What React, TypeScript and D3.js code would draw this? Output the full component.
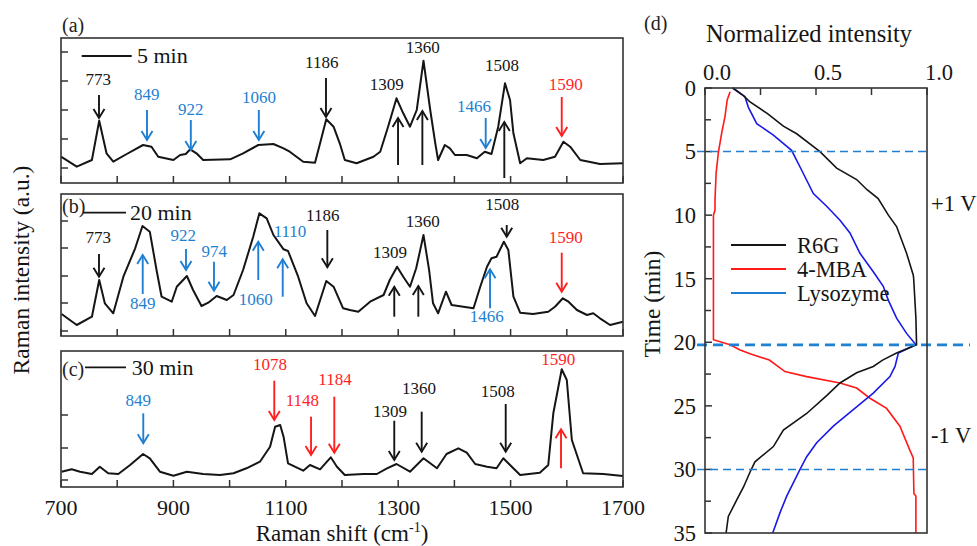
import React from "react";
import * as d3 from "d3";

const FONT = "Liberation Serif, Times New Roman, DejaVu Serif, serif";
const ANN_BLUE = "#1f7fd2";
const ANN_RED = "#ff1f1f";
const INK = "#151515";

// ---------- Spectra: [Raman shift (cm-1), intensity (a.u.)] ----------
const spectrumA: [number, number][] = [
  [700, 26.3], [728, 16.3], [755, 23], [768, 62.3], [781, 29.7], [793, 21.3], [817, 29], [846, 38],
  [861, 36.3], [873, 26.3], [900, 23], [912, 28], [922, 29], [930, 33.7], [941, 29.7], [953, 23],
  [1001, 23.7], [1024, 29.7], [1051, 38], [1078, 39], [1096, 34.7], [1107, 31.3], [1131, 21.3],
  [1152, 20.3], [1164, 46.3], [1172, 63.7], [1185, 56.3], [1196, 39.7], [1205, 23], [1226, 19.7],
  [1256, 26.3], [1268, 31.3], [1282, 56.3], [1297, 84.7], [1309, 69.7], [1321, 56.3], [1333, 73],
  [1345, 122.3], [1357, 73], [1366, 39.7], [1371, 23], [1383, 38], [1392, 34.7], [1401, 28],
  [1422, 28], [1440, 24.7], [1454, 31.3], [1466, 29], [1478, 56.3], [1490, 99.7], [1499, 83],
  [1505, 49.7], [1517, 19.7], [1529, 24.7], [1558, 23], [1579, 26.3], [1594, 41.3], [1606, 36.3],
  [1624, 23], [1659, 19], [1700, 19.7],
];

const spectrumB: [number, number][] = [
  [701, 22], [728, 11], [755, 19.3], [768, 56], [778, 32.7], [793, 22.7], [811, 59.3], [832, 87.7],
  [845, 110], [858, 104.3], [870, 66], [879, 39.3], [897, 34.3], [906, 49.3], [924, 60], [935, 46],
  [950, 30], [962, 33.3], [977, 40], [995, 36], [1007, 41], [1024, 66], [1042, 99.3], [1053, 122.7],
  [1066, 117.7], [1078, 101], [1096, 86.7], [1104, 85], [1122, 59.3], [1137, 32.7], [1152, 20],
  [1172, 55], [1185, 49.3], [1202, 27.7], [1214, 26], [1229, 24.3], [1250, 34.3], [1274, 41],
  [1285, 56], [1298, 69.3], [1309, 59.3], [1321, 49.3], [1332, 67.7], [1345, 101], [1355, 66],
  [1362, 32.7], [1371, 22.7], [1385, 44.3], [1395, 31], [1416, 29.3], [1434, 27.7], [1446, 49.3],
  [1458, 69.3], [1466, 77.7], [1475, 79.3], [1488, 94.3], [1496, 86], [1505, 39.3], [1517, 23.3],
  [1540, 22], [1567, 24.3], [1579, 29.3], [1593, 37.7], [1603, 34.3], [1618, 26], [1636, 21],
  [1647, 22.7], [1659, 17.7], [1677, 11], [1700, 14.3],
];

const spectrumC: [number, number][] = [
  [701, 15.3], [719, 17.7], [734, 15.3], [755, 13], [769, 20.3], [784, 13.7], [802, 13], [823, 22],
  [846, 33], [858, 28.7], [876, 15.3], [900, 11.3], [924, 15.3], [953, 13], [983, 12], [1007, 13.7],
  [1030, 18.7], [1054, 25.3], [1072, 40.3], [1081, 60.3], [1090, 62], [1096, 50.3], [1104, 23.7],
  [1131, 16.3], [1143, 22], [1161, 17.7], [1180, 29.7], [1191, 20.3], [1205, 12], [1238, 13],
  [1262, 13], [1280, 18.7], [1297, 23], [1321, 15.3], [1345, 28.7], [1369, 18.7], [1386, 33],
  [1407, 38.7], [1422, 34.3], [1437, 23], [1458, 20.3], [1475, 18.7], [1487, 28.7], [1499, 22],
  [1517, 12], [1552, 14.3], [1567, 22], [1576, 73.7], [1591, 117.7], [1600, 107], [1609, 47],
  [1629, 13.7], [1665, 13], [1700, 11],
];

// ---------- Panel (d): [time (min), normalized intensity] ----------
const r6g: [number, number][] = [
  [0, 0.125], [0.6, 0.173], [1.1, 0.203], [2.0, 0.28], [3.0, 0.353], [3.6, 0.413], [5.0, 0.518],
  [6.3, 0.593], [7.2, 0.683], [8.0, 0.73], [8.7, 0.78], [10.0, 0.826], [10.9, 0.863], [13.0, 0.908],
  [14.7, 0.938], [15.0, 0.94], [18.1, 0.95], [20.2, 0.953], [20.85, 0.863], [21.4, 0.8],
  [21.9, 0.758], [22.4, 0.683], [23.2, 0.608], [24.2, 0.548], [25.6, 0.458], [26.9, 0.353],
  [28.2, 0.308], [29.4, 0.225], [30.2, 0.203], [31.4, 0.173], [32.4, 0.143], [33.7, 0.105], [35, 0.095],
];
const mba: [number, number][] = [
  [0.3, 0.113], [0.94, 0.1], [2.25, 0.09], [3.56, 0.075], [5.1, 0.06], [6.7, 0.05], [8.8, 0.045],
  [9.6, 0.045], [10, 0.038], [19.8, 0.038], [20.2, 0.113], [20.6, 0.158], [20.9, 0.203], [21.4, 0.29],
  [22.3, 0.36], [22.7, 0.458], [23.2, 0.608], [23.6, 0.683], [24.4, 0.743], [25.2, 0.818],
  [26.6, 0.878], [28.5, 0.923], [29.1, 0.938], [31.9, 0.941], [32.1, 0.95], [35, 0.95],
];
const lysozyme: [number, number][] = [
  [0, 0.125], [0.68, 0.18], [1.5, 0.195], [2.8, 0.233], [3.7, 0.308], [4.9, 0.39], [6.45, 0.435],
  [8.3, 0.488], [9.3, 0.548], [10.4, 0.608], [11.4, 0.653], [13.0, 0.698], [14.45, 0.758],
  [15.6, 0.803], [16.7, 0.826], [18.1, 0.863], [19.3, 0.908], [20.2, 0.95], [20.85, 0.871],
  [21.9, 0.856], [22.7, 0.833], [24.0, 0.758], [25.3, 0.668], [26.6, 0.578], [27.9, 0.503],
  [29.0, 0.458], [30.0, 0.428], [32.1, 0.368], [33.4, 0.338], [35, 0.305],
];

const shiftTicks = [700, 800, 900, 1000, 1100, 1200, 1300, 1400, 1500, 1600, 1700];
const shiftTickLabels = [700, 900, 1100, 1300, 1500, 1700];
const panelATicks = [15, 44, 73, 102, 131];
const panelBTicks = [5, 33, 60, 88, 115];
const panelCTicks = [7, 39, 72];
const timeTicks = [0, 5, 10, 15, 20, 25, 30, 35];
const timeMinorTicks = [2.5, 7.5, 12.5, 17.5, 22.5, 27.5, 32.5];
const normTicks = [0, 0.5, 1.0];
const normMinorTicks = [0.25, 0.75];
const markerTimes = [5, 30];
const switchTime = 20.2;
const legendNames = ["R6G", "4-MBA", "Lysozyme"];
const panelTimes = ["5 min", "20 min", "30 min"];

// Peak annotations: [label, colour key, arrow shift, tail I, head I, label shift, label I]
type Ann = [string, "k" | "b" | "r", number, number, number, number, number];
const annA: Ann[] = [
  ["773", "k", 767.6, 88, 65, 766.4, 98],
  ["849", "b", 853, 73, 43, 852.5, 83],
  ["922", "b", 931, 63, 33, 930.8, 68],
  ["1060", "b", 1052, 73, 43, 1052.3, 80],
  ["1186", "k", 1171.5, 105, 66, 1163.9, 115],
  ["1309", "k", 1299.7, 18, 65, 1279.5, 93],
  ["1360", "k", 1343, 18, 72, 1343.6, 130],
  ["1466", "b", 1455.7, 65, 35, 1434.9, 71],
  ["1508", "k", 1488.8, 5, 61, 1484.7, 112],
  ["1590", "r", 1591, 86, 47, 1598, 93],
];
const annB: Ann[] = [
  ["773", "k", 767.6, 82, 59.3, 766.4, 92.7],
  ["849", "b", 845.4, 42, 81, 845.4, 26.7],
  ["922", "b", 922.4, 87, 66, 917.6, 95],
  ["974", "b", 972.2, 74.3, 45.3, 972.8, 78.7],
  ["1060", "b", 1051, 56, 94.3, 1046.4, 31],
  ["1110", "b", 1094.5, 39.3, 76.7, 1107.5, 99.3],
  ["1186", "k", 1173.9, 106, 68.7, 1165.7, 115.3],
  ["1309", "k", 1293, 19.3, 49.3, 1285.4, 77.7],
  ["1360", "k", 1335.8, 19.3, 50, 1343.6, 108.7],
  ["1466", "b", 1463.4, 27.7, 66.7, 1457.5, 13.7],
  ["1508", "k", 1493.1, 111, 99.3, 1485.3, 126],
  ["1590", "r", 1591, 83.3, 44.3, 1598, 93.3],
];
const annC: Ann[] = [
  ["849", "b", 846.4, 73.7, 43.7, 837.5, 81],
  ["1078", "r", 1079.5, 106.3, 67, 1071.9, 117],
  ["1148", "r", 1144.9, 70.3, 32, 1129.4, 81],
  ["1184", "r", 1186.3, 90.3, 34.3, 1187.6, 102],
  ["1309", "k", 1293, 66.3, 27, 1285.4, 69.7],
  ["1360", "k", 1341.8, 75.3, 35.3, 1337, 93],
  ["1508", "k", 1491.3, 83, 35.3, 1477, 90.3],
  ["1590", "r", 1589.7, 18.7, 57.7, 1584.9, 122],
];

const colorOf = (k: string) => (k === "b" ? ANN_BLUE : k === "r" ? ANN_RED : INK);

// ---------- layout ----------
const L = { left: 61, right: 623 };
const panels = [
  { id: "(a)", top: 38, bottom: 183, data: spectrumA, ticks: panelATicks, ann: annA, tag: panelTimes[0],
    tagY: 32, lineY: 56, lineX: [81.7, 131.7], textX: 137, textY: 63 },
  { id: "(b)", top: 194, bottom: 336, data: spectrumB, ticks: panelBTicks, ann: annB, tag: panelTimes[1],
    tagY: 213, lineY: 212.7, lineX: [83, 126], textX: 130, textY: 220 },
  { id: "(c)", top: 351, bottom: 487, data: spectrumC, ticks: panelCTicks, ann: annC, tag: panelTimes[2],
    tagY: 376, lineY: 367.3, lineX: [85, 126], textX: 131.7, textY: 375 },
];

const D = { left: 705, right: 927, top: 88, bottom: 533 };

function Arrow({ x, y1, y2, color }: { x: number; y1: number; y2: number; color: string }) {
  const dir = Math.sign(y2 - y1);
  const hl = 9, hw = 5.5;
  return (
    <g stroke={color} strokeWidth={1.9} fill="none" strokeLinecap="butt">
      <line x1={x} y1={y1} x2={x} y2={y2} />
      <polyline points={`${x - hw},${y2 - dir * hl} ${x},${y2} ${x + hw},${y2 - dir * hl}`} strokeLinejoin="miter" />
    </g>
  );
}

export default function App() {
  const x = d3.scaleLinear().domain([700, 1700]).range([L.left, L.right]);
  const xd = d3.scaleLinear().domain([0, 1]).range([D.left, D.right]);
  const yd = d3.scaleLinear().domain([0, 35]).range([D.top, D.bottom]);
  const dLine = d3.line<[number, number]>().x((d) => xd(d[1])).y((d) => yd(d[0]));

  return (
    <svg width={977} height={546} style={{ position: "absolute", left: 0, top: 0, background: "#fff", fontFamily: FONT }}>
      <rect x={0} y={0} width={977} height={546} fill="#fff" />
      {panels.map((p, pi) => {
        const y = d3.scaleLinear().domain([0, p.bottom - p.top]).range([p.bottom, p.top]);
        const line = d3.line<[number, number]>().x((d) => x(d[0])).y((d) => y(d[1]));
        return (
          <g key={pi}>
            <path d={line(p.data) || ""} fill="none" stroke={INK} strokeWidth={2} strokeLinejoin="round" />
            {shiftTicks.map((t) => (
              <line key={t} x1={x(t)} x2={x(t)} y1={p.bottom} y2={p.bottom - 7} stroke="#333" strokeWidth={1.5} />
            ))}
            {p.ticks.map((t) => (
              <line key={t} x1={L.left} x2={L.left + 7} y1={y(t)} y2={y(t)} stroke="#333" strokeWidth={1.5} />
            ))}
            <rect x={L.left} y={p.top} width={L.right - L.left} height={p.bottom - p.top} fill="none"
              stroke="#333" strokeWidth={1.6} />
            <text x={62} y={p.tagY} fontSize={20} fill="#222">{p.id}</text>
            <line x1={p.lineX[0]} x2={p.lineX[1]} y1={p.lineY} y2={p.lineY} stroke={INK} strokeWidth={1.8} />
            <text x={p.textX} y={p.textY} fontSize={22} fill={INK}>{p.tag}</text>
            {p.ann.map((a, ai) => (
              <g key={ai}>
                <Arrow x={x(a[2])} y1={y(a[3])} y2={y(a[4])} color={colorOf(a[1])} />
                <text x={x(a[5])} y={y(a[6])} fontSize={17} textAnchor="middle" fill={colorOf(a[1])}>{a[0]}</text>
              </g>
            ))}
          </g>
        );
      })}
      {shiftTickLabels.map((t) => (
        <text key={t} x={x(t)} y={515} fontSize={22} textAnchor="middle" fill={INK}>{t}</text>
      ))}
      <text x={342} y={541} fontSize={23} textAnchor="middle" fill={INK}>
        Raman shift (cm<tspan fontSize={14} dy={-9}>-1</tspan><tspan dy={9}>)</tspan>
      </text>
      <text transform="translate(29,270) rotate(-90)" fontSize={23.5} textAnchor="middle" fill={INK}>
        Raman intensity (a.u.)
      </text>

      {/* Panel (d) */}
      <text x={644} y={30} fontSize={20} fill="#222">(d)</text>
      <text x={809} y={42} fontSize={24.5} textAnchor="middle" fill={INK}>Normalized intensity</text>
      {normTicks.map((t) => (
        <g key={t}>
          <line x1={xd(t)} x2={xd(t)} y1={D.top} y2={D.top + 7} stroke="#333" strokeWidth={1.5} />
          <text x={xd(t) + 12} y={80} fontSize={22.5} textAnchor="middle" fill={INK}>{t.toFixed(1)}</text>
        </g>
      ))}
      {normMinorTicks.map((t) => (
        <line key={t} x1={xd(t)} x2={xd(t)} y1={D.top} y2={D.top + 7} stroke="#333" strokeWidth={1.5} />
      ))}
      {timeTicks.map((t) => (
        <g key={t}>
          <line x1={D.left} x2={D.left + 7} y1={yd(t)} y2={yd(t)} stroke="#333" strokeWidth={1.5} />
          <text x={696} y={yd(t)} dy="0.35em" fontSize={22.5} textAnchor="end" fill={INK}>{t}</text>
        </g>
      ))}
      {timeMinorTicks.map((t) => (
        <line key={t} x1={D.left} x2={D.left + 6} y1={yd(t)} y2={yd(t)} stroke="#333" strokeWidth={1.5} />
      ))}
      <text transform="translate(660,304) rotate(-90)" fontSize={23.5} textAnchor="middle" fill={INK}>Time (min)</text>

      <path d={dLine(mba) || ""} fill="none" stroke="#ff1a1a" strokeWidth={1.6} />
      <path d={dLine(lysozyme) || ""} fill="none" stroke="#1a1ae6" strokeWidth={1.6} />
      <path d={dLine(r6g) || ""} fill="none" stroke={INK} strokeWidth={1.6} />

      {markerTimes.map((t) => (
        <line key={t} x1={697} x2={928} y1={yd(t)} y2={yd(t)} stroke={ANN_BLUE} strokeWidth={1.6}
          strokeDasharray="8,5" />
      ))}
      <line x1={697} x2={970} y1={yd(switchTime)} y2={yd(switchTime)} stroke={ANN_BLUE} strokeWidth={2.6}
        strokeDasharray="10,6" />

      <rect x={D.left} y={D.top} width={D.right - D.left} height={D.bottom - D.top} fill="none"
        stroke="#333" strokeWidth={1.6} />

      <text x={931} y={211} fontSize={22.5} fill={INK}>+1 V</text>
      <text x={931} y={443} fontSize={22.5} fill={INK}>-1 V</text>

      {legendNames.map((n, i) => (
        <g key={n}>
          <line x1={731} x2={786} y1={245 + i * 24} y2={245 + i * 24}
            stroke={i === 0 ? INK : i === 1 ? "#ff1a1a" : ANN_BLUE} strokeWidth={1.8} />
          <text x={797} y={245 + i * 24} dy="0.35em" fontSize={22.5} fill={INK}>{n}</text>
        </g>
      ))}
    </svg>
  );
}
